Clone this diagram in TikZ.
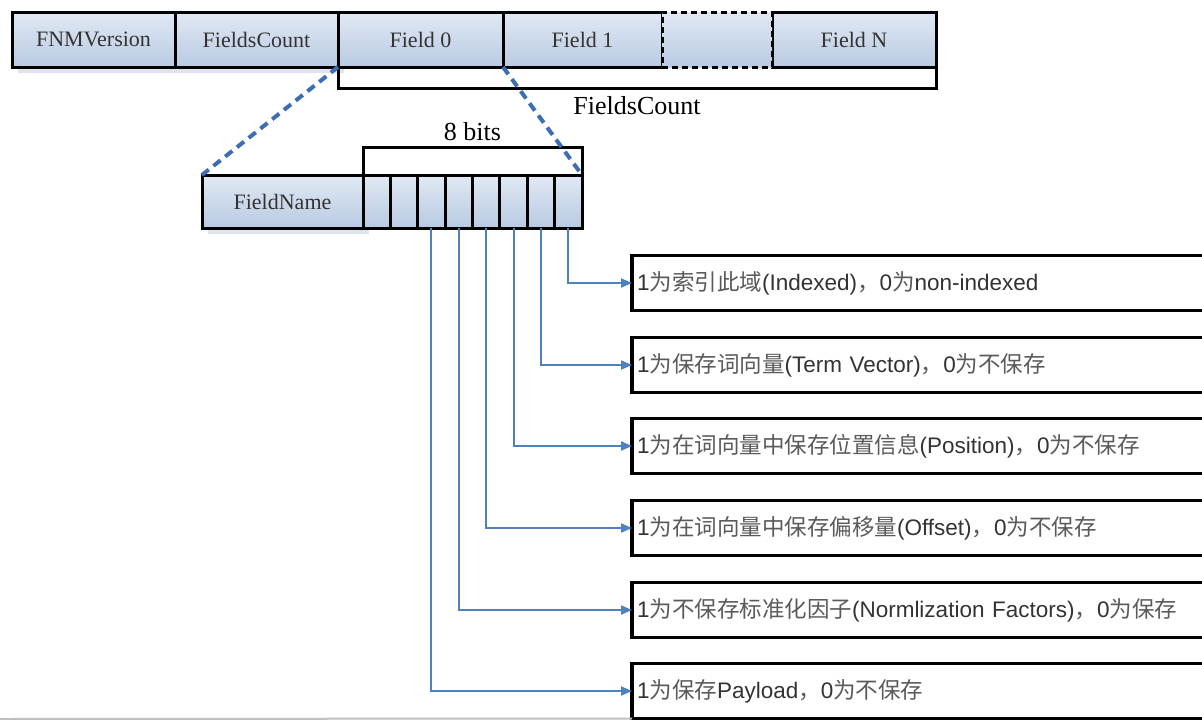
\documentclass[tikz,border=0pt]{standalone}
\usepackage{fontspec}
\setmainfont{Liberation Serif}
\newfontfamily\zhfont{Noto Sans CJK SC}
\newfontfamily\notefont{Liberation Sans}
\usepackage{xcolor}
\usepackage{tikz}
\usetikzlibrary{arrows.meta,positioning,shadows}
\definecolor{boxtop}{HTML}{E1E9F4}
\definecolor{boxbot}{HTML}{B9CAE2}
\definecolor{shade}{HTML}{C9D4E4}
\definecolor{linkblue}{HTML}{4F81BD}
\definecolor{zoomblue}{HTML}{3D6DB3}
\definecolor{txtgray}{HTML}{333333}
\definecolor{zhgray}{HTML}{5A5A5A}
\newcommand{\zh}[1]{{\zhfont\color{zhgray}#1}}
\tikzset{
  fbox/.style={rectangle,draw,line width=3pt,top color=boxtop,bottom color=boxbot,
    minimum height=55pt,inner sep=0pt,outer sep=0pt,text=txtgray,
    font=\fontsize{22}{26}\selectfont},
  shd/.style={drop shadow={fill=shade,opacity=0.6,shadow xshift=6pt,shadow yshift=-6pt}},
  bitbox/.style={fbox,minimum width=27.375pt,minimum height=53pt},
  note/.style={rectangle,draw,line width=3.5pt,fill=white,minimum height=55pt,
    text width=573pt,align=left,inner sep=5pt,outer sep=0pt,text=txtgray,
    font=\notefont\fontsize{22.5}{26}\selectfont},
  arr/.style={-{Triangle[length=11pt,width=9pt]},linkblue,line width=2pt},
  zoomline/.style={zoomblue,line width=4pt,dash pattern=on 9pt off 6pt},
  brk/.style={line width=3pt},
  lbl/.style={font=\fontsize{26}{30}\selectfont,text=black},
}
\begin{document}
\begin{tikzpicture}[x=1pt,y=-1pt]
\fill[white] (0,0) rectangle (1202,720);
\useasboundingbox (0,0) rectangle (1202,720);

% record layout
\node[fbox,shd,minimum width=163pt,anchor=north west] (ver) at (12,12) {FNMVersion};
\node[fbox,shd,minimum width=163pt,right=0pt of ver] (cnt) {FieldsCount};
\node[fbox,minimum width=165pt,right=0pt of cnt] (f0) {Field 0};
\node[fbox,minimum width=159pt,right=0pt of f0] (f1) {Field 1};
\node[fbox,minimum width=164pt,right=110pt of f1] (fN) {Field N};
\node[fbox,minimum width=110pt,right=0pt of f1,dash pattern=on 6pt off 4pt] (fdots) {};
\draw[brk] (f0.south west) -- ++(0,21) -| node[pos=0.25,below=4pt,lbl]{FieldsCount} (fN.south east);

% one field
\node[fbox,shd,minimum width=161pt,minimum height=53pt,anchor=north west] (fname) at (202,175) {FieldName};
\foreach \i in {0,...,7}
  \node[bitbox,anchor=north east] (c\i) at ({582-27.375*\i},175) {};
\draw[brk] (c7.north west) -- ++(0,-28) -| node[pos=0.25,above=1pt,lbl]{8 bits} (c0.north east);

\draw[zoomline] (f0.south west) -- (fname.north west);
\draw[zoomline] (f0.south east) -- (c0.north east);

% meaning of the bits
\node[note,anchor=west] (n0) at (632,283) {1\zh{为索引此域}(Indexed)\zh{，}0\zh{为}non-indexed};
\node[note,anchor=west] (n1) at (632,365) {1\zh{为保存词向量}(Term Vector)\zh{，}0\zh{为不保存}};
\node[note,anchor=west] (n2) at (632,446) {1\zh{为在词向量中保存位置信息}(Position)\zh{，}0\zh{为不保存}};
\node[note,anchor=west] (n3) at (632,528) {1\zh{为在词向量中保存偏移量}(Offset)\zh{，}0\zh{为不保存}};
\node[note,anchor=west] (n4) at (632,610) {1\zh{为不保存标准化因子}(Normlization Factors)\zh{，}0\zh{为保存}};
\node[note,anchor=west] (n5) at (632,691) {1\zh{为保存}Payload\zh{，}0\zh{为不保存}};

\foreach \i in {0,...,5}
  \draw[arr] (c\i.south) |- (n\i.west);

\draw[gray!50,line width=2pt] (0,719) -- (n5.south west);
\end{tikzpicture}
\end{document}
